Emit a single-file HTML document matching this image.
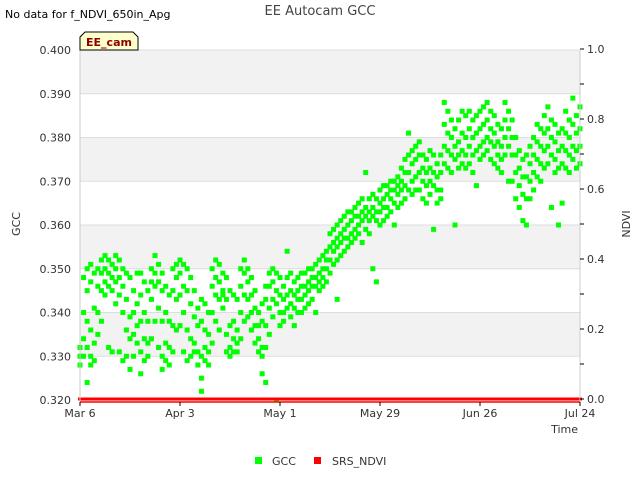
<!DOCTYPE html>
<html><head><meta charset="utf-8"><style>
body{margin:0;background:#fff;font-family:"DejaVu Sans","Liberation Sans",sans-serif;}
svg text{font-family:"DejaVu Sans","Liberation Sans",sans-serif;}
</style></head><body>
<svg id="chart" width="640" height="480" xmlns="http://www.w3.org/2000/svg">
<g id="bands"></g>
<g id="grid"></g>
<g id="pts"></g>
<g id="ndvi"></g>
<g id="axes"></g>
<text x="320" y="15" text-anchor="middle" font-size="13" fill="#444">EE Autocam GCC</text>
<text x="5" y="18" font-size="11" fill="#000">No data for f_NDVI_650in_Apg</text>
<g>
<path d="M80,50 L80,37 L85,32 L133,32 L138,37 L138,50 Z" fill="#ffffcc" stroke="#000" stroke-width="1"/>
<text x="109" y="46" text-anchor="middle" font-size="11" font-weight="bold" fill="#8b0000">EE_cam</text>
</g>
<text transform="translate(20,224) rotate(-90)" text-anchor="middle" font-size="11" fill="#333">GCC</text>
<text transform="translate(630,224) rotate(-90)" text-anchor="middle" font-size="11" fill="#333">NDVI</text>
<text x="578" y="433" text-anchor="end" font-size="11" fill="#333">Time</text>
<g>
<g><rect x="255" y="457" width="7" height="7" fill="#00ff00"/><text x="272" y="465" font-size="11" fill="#333">GCC</text></g>
<g><rect x="314" y="457" width="7" height="7" fill="#ff0000"/><text x="332" y="465" font-size="11" fill="#333">SRS_NDVI</text></g>
</g>
</svg>
<script>
const gccTicks=[0.320,0.330,0.340,0.350,0.360,0.370,0.380,0.390,0.400];
const ndviTicks=[0.0,0.2,0.4,0.6,0.8,1.0];
const dateLabels=["Mar 6","Apr 3","May 1","May 29","Jun 26","Jul 24"];
const dateLabelDays=[0,28,56,84,112,140];
const gccDaily=[
[.332,.330,.328],[.348,.340,.334,.330],[.350,.345,.338,.332,.324],[.351,.347,.336,.330,.328],[.349,.341,.333,.329],
[.350,.346,.340,.335],[.352,.349,.345,.338],[.353,.350,.347,.344],[.352,.349,.346,.332],[.351,.348,.345,.331],
[.353,.350,.347,.342],[.352,.348,.344,.331],[.350,.346,.340,.329],[.349,.343,.336,.330],[.348,.339,.334,.327],
[.345,.340,.335,.330],[.349,.342,.337,.333],[.349,.344,.338,.331,.326],[.347,.340,.334,.329],[.345,.338,.333,.330],
[.350,.347,.343,.334],[.353,.349,.346,.338],[.351,.347,.341,.332],[.349,.345,.338,.330,.327],[.346,.340,.333,.329],
[.344,.338,.332,.328],[.350,.345,.337,.331],[.351,.348,.343,.336],[.352,.349,.344,.337],[.351,.346,.340,.331],
[.350,.345,.336,.329],[.348,.342,.334,.330],[.345,.339,.333,.331],[.341,.337,.331,.328],[.343,.338,.330,.325,.322],
[.342,.336,.332,.329],[.340,.335,.331,.328],[.350,.346,.340,.333],[.352,.348,.344,.338],[.351,.347,.343,.336],
[.349,.345,.341,.344],[.348,.343,.335,.331],[.345,.337,.332,.330],[.344,.338,.334,.331],[.343,.336,.331,.333],
[.350,.346,.340,.334],[.352,.349,.344,.338],[.350,.347,.343,.339],[.348,.344,.340,.336],[.345,.341,.337,.333],
[.340,.337,.334,.331],[.342,.338,.332,.330,.326],[.346,.343,.337,.332,.324],[.349,.346,.341,.335],[.350,.347,.343,.339],
[.349,.345,.342,.320],[.348,.344,.340,.337],[.346,.343,.340,.338],[.354,.348,.344,.341],[.349,.345,.342,.339],
[.347,.344,.341,.337],[.348,.345,.343,.340],[.349,.346,.343,.340],[.349,.346,.344,.341],[.350,.347,.345,.342],
[.350,.348,.346,.343],[.351,.348,.346,.340],[.352,.349,.347,.345],[.353,.350,.348,.346],[.354,.352,.350,.347],
[.358,.355,.352,.349],[.359,.356,.354,.351],[.360,.357,.355,.352,.343],[.361,.358,.356,.353],[.362,.359,.357,.354],
[.363,.360,.357,.355],[.363,.361,.358,.356],[.364,.362,.359,.357],[.365,.362,.360,.358],[.366,.363,.361,.356],
[.372,.364,.362,.359],[.366,.363,.361,.358],[.367,.364,.362,.350],[.366,.363,.361,.347],[.368,.365,.363,.360],
[.369,.366,.364,.361],[.369,.367,.364,.362],[.370,.368,.366,.363],[.370,.368,.365,.360],[.371,.369,.367,.364],
[.373,.370,.368,.365],[.375,.372,.369,.366],[.381,.376,.372,.368],[.377,.374,.370,.367],[.378,.375,.371,.368],
[.379,.376,.372,.368],[.376,.373,.370,.366],[.375,.372,.369,.365],[.377,.373,.370,.367],[.376,.372,.369,.359],
[.374,.371,.368,.365],[.376,.372,.368,.366],[.388,.383,.378,.374],[.386,.381,.377,.373],[.384,.380,.376,.372],
[.382,.378,.375,.360],[.384,.379,.376,.373],[.386,.381,.377,.374],[.385,.380,.376,.373],[.386,.382,.378,.374],
[.384,.380,.376,.372],[.385,.381,.377,.369],[.386,.382,.378,.375],[.387,.383,.379,.376],[.388,.384,.380,.377],
[.386,.382,.379,.375],[.385,.381,.378,.374],[.383,.379,.376,.373],[.382,.378,.375,.372],[.388,.384,.380,.376],
[.386,.382,.378,.370],[.384,.380,.376,.370],[.380,.376,.372,.366],[.377,.373,.369,.364],[.375,.371,.367,.361],
[.376,.371,.366,.360],[.378,.374,.370,.366],[.380,.376,.372,.368],[.383,.379,.375,.371],[.382,.378,.374,.370],
[.385,.381,.377,.373],[.387,.382,.378,.374],[.384,.380,.376,.364],[.383,.379,.375,.372],[.381,.377,.373,.360],
[.382,.378,.374,.365],[.386,.381,.377,.373],[.384,.380,.376,.372],[.389,.383,.378,.375],[.385,.381,.377,.373],
[.387,.382,.378,.374]];
const ndviDaily=new Array(141).fill(0.0);

const NS="http://www.w3.org/2000/svg";
const X0=80,X1=580,Y0=400,Y1=50,DAYS=140;
const xScale=d=>X0+(d/DAYS)*(X1-X0);
const yScale=v=>Y0-(v-0.32)/(0.40-0.32)*(Y0-Y1);
const y2Scale=v=>Y0-1-v*(Y0-Y1);
function mk(tag,attrs,parent){const e=document.createElementNS(NS,tag);for(const k in attrs)e.setAttribute(k,attrs[k]);parent.appendChild(e);return e;}
const bands=document.getElementById('bands'),grid=document.getElementById('grid'),pts=document.getElementById('pts'),ndvi=document.getElementById('ndvi'),axes=document.getElementById('axes');
for(let i=0;i<gccTicks.length-1;i++){
  if(i%2===1){const r=mk('rect',{x:X0,y:yScale(gccTicks[i+1]),width:X1-X0,height:yScale(gccTicks[i])-yScale(gccTicks[i+1]),fill:'#f2f2f2'},bands);
  
  }
}
gccTicks.forEach(t=>{
  const l=mk('line',{x1:X0,x2:X1,y1:yScale(t),y2:yScale(t),stroke:'#dddddd','stroke-width':1},grid);
  
  
  const tx=mk('text',{x:71,y:yScale(t)+4,'text-anchor':'end','font-size':11,fill:'#333'},axes);
  tx.textContent=t.toFixed(3);
  
  
});
gccDaily.forEach((vals,d)=>{vals.forEach(v=>{
  const r=mk('rect',{x:xScale(d)-2.5,y:yScale(v)-2.5,width:5,height:5,fill:'#00ff00'},pts);
  
  
});});
ndviDaily.forEach((v,d)=>{
  const r=mk('rect',{x:xScale(d)-2,y:y2Scale(v)-1.5,width:4,height:3,fill:'#ff0000'},ndvi);
  
  
});
mk('line',{x1:X0,x2:X0,y1:Y1,y2:Y0+2,stroke:'#ccc'},axes);
mk('line',{x1:X1,x2:X1,y1:Y1,y2:Y0+2,stroke:'#ccc'},axes);
mk('line',{x1:X0,x2:X1,y1:Y0+2,y2:Y0+2,stroke:'#ff0000','stroke-width':1.5},axes);
for(let i=0;i<=10;i++){
  const v=i/10;
  mk('line',{x1:X1,x2:X1+4,y1:y2Scale(v),y2:y2Scale(v),stroke:'#000'},axes);
}
ndviTicks.forEach(t=>{
  const tx=mk('text',{x:587,y:y2Scale(t)+4,'font-size':11,fill:'#333'},axes);
  tx.textContent=t.toFixed(1);
  
  
});
dateLabels.forEach((lab,i)=>{
  const x=xScale(dateLabelDays[i]);
  mk('line',{x1:x,x2:x,y1:Y0+2,y2:Y0+6,stroke:'#000'},axes);
  const tx=mk('text',{x:x,y:Y0+17,'text-anchor':'middle','font-size':11,fill:'#333'},axes);
  tx.textContent=lab;
  
  
});
</script>
</body></html>
